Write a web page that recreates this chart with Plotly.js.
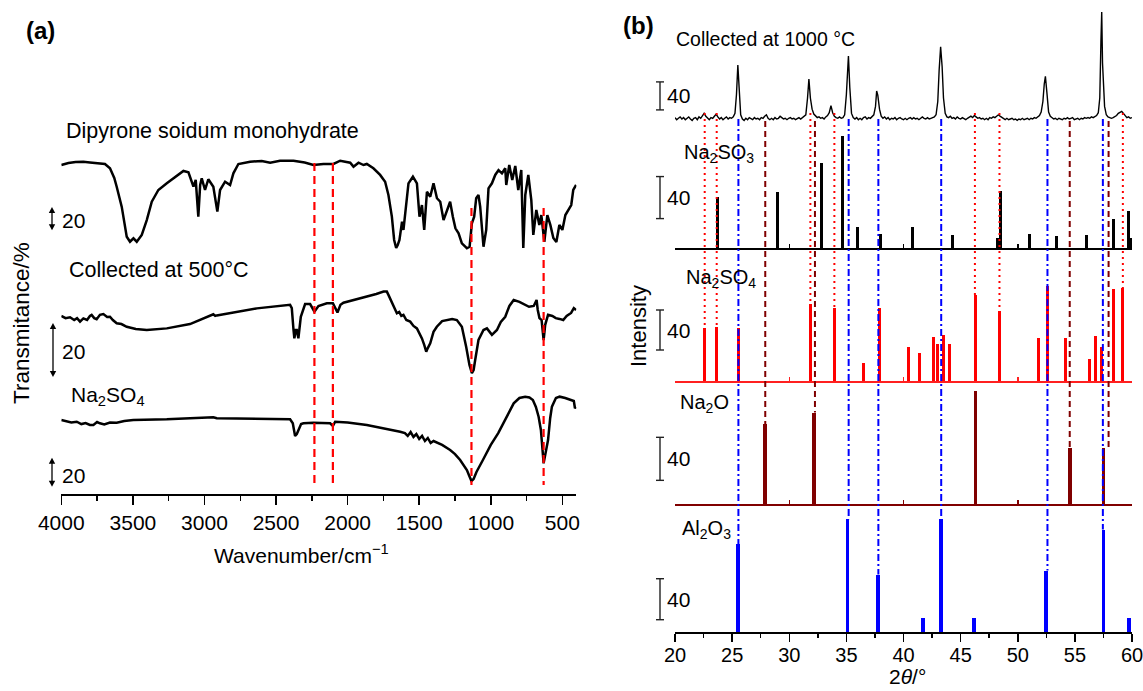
<!DOCTYPE html>
<html><head><meta charset="utf-8">
<script src="https://cdn.plot.ly/plotly-3.0.1.min.js"></script>
<style>html,body{margin:0;padding:0;background:#fff}#chart{width:1143px;height:691px}</style>
</head><body><div id="chart"></div>
<script>
// ---------------- DATA ----------------
// (a) FTIR: wavenumber (cm-1) and relative transmittance
const dipWn = [4000,3950,3900,3846,3800,3750,3695,3660,3630,3613,3578,3543,3520,3496,3473,3438,3403,3368,3322,3263,3217,3147,3112,3077,3061,3043,3030,3019,2996,2973,2938,2910,2891,2856,2821,2798,2763,2681,2600,2541,2472,2378,2300,2239,2169,2099,2052,1982,1959,1924,1889,1866,1820,1773,1738,1715,1691,1675,1661,1650,1638,1620,1610,1591,1575,1544,1516,1498,1481,1465,1446,1423,1400,1376,1353,1330,1307,1284,1265,1247,1225,1202,1167,1148,1132,1116,1102,1086,1074,1062,1051,1032,1016,992,969,946,922,899,892,871,850,829,808,787,773,759,738,717,703,682,661,647,626,605,584,563,542,521,500,479,458,438,424,404];
const dipT = [72.9,74.6,75.5,75.8,75.1,74.6,73.8,70.1,61.8,54.3,37.2,11.4,7.1,10.0,7.1,12.9,25.7,41.4,51.5,57.2,61.5,67.8,66.7,54.3,60.1,28.6,55.8,61.5,51.5,60.7,54.3,32.9,51.5,58.6,55.8,65.8,73.8,75.8,76.4,74.9,76.6,76.6,75.1,72.9,73.8,73.8,76.6,74.9,71.5,74.9,72.9,73.8,70.1,64.4,58.6,47.2,28.6,8.6,1.7,4.3,8.6,24.3,17.2,37.2,57.2,62.9,57.2,28.6,38.6,17.2,50.0,45.7,57.2,44.4,41.4,25.7,34.3,41.4,28.6,18.6,14.3,5.7,1.5,2.8,22.9,28.6,44.4,47.2,37.2,14.3,2.8,17.2,52.9,57.2,64.4,68.6,65.8,70.1,55.8,72.9,60.1,72.1,51.5,68.6,1.7,47.2,64.4,42.9,12.9,34.3,21.5,30.0,6.9,30.0,21.5,10.3,6.9,21.5,17.2,30.0,34.3,38.6,51.5,55.8];

const midWn = [4000,3970,3939,3910,3890,3869,3846,3820,3800,3788,3770,3753,3730,3706,3680,3660,3640,3613,3580,3543,3480,3403,3263,3101,2938,2925,2914,2798,2634,2402,2390,2378,2372,2362,2355,2344,2335,2327,2297,2262,2232,2204,2145,2103,2071,2050,2029,1866,1800,1749,1726,1715,1703,1690,1680,1665,1656,1640,1625,1610,1590,1563,1540,1516,1500,1481,1465,1451,1440,1423,1400,1377,1340,1307,1270,1237,1202,1172,1149,1132,1120,1109,1086,1051,1027,992,957,930,899,870,840,800,760,733,700,680,672,660,645,631,620,600,570,546,520,494,470,439,420,404];
const midT = [31.1,30.3,30.6,29.6,30.3,29.0,30.2,29.6,31.1,31.5,30.3,29.9,31.5,31.8,30.7,30.8,29.6,28.4,28.1,27.1,26.3,25.9,26.5,28.1,31.7,31.1,31.3,32.4,33.9,35.2,34.0,25.9,22.8,25.9,25.9,22.8,27.8,30.8,35.5,35.5,32.7,34.8,35.8,35.8,32.4,35.2,36.0,38.2,39.2,40.1,40.1,38.9,37.6,36.3,35.2,33.3,32.1,32.6,31.1,31.5,29.6,29.0,27.4,26.5,24.8,22.8,20.4,17.9,19.2,21.0,25.2,27.1,29.2,29.6,30.0,29.6,27.1,19.7,13.0,9.9,11.1,14.8,22.2,25.9,26.5,24.1,25.9,28.9,30.8,34.8,37.0,36.3,35.2,34.5,34.8,37.0,33.3,30.3,29.6,22.2,27.8,31.5,31.1,30.3,30.0,29.6,31.1,32.2,34.0,33.3];

const botWn = [4000,3960,3930,3892,3860,3830,3800,3776,3750,3730,3700,3660,3613,3560,3497,3263,3000,2938,2914,2700,2402,2383,2367,2355,2344,2325,2309,2239,2122,2103,2087,2000,1866,1750,1633,1600,1580,1560,1540,1520,1500,1480,1460,1440,1420,1400,1340,1284,1250,1214,1190,1167,1150,1135,1120,1100,1055,1000,948,900,840,800,760,730,706,685,666,650,640,631,620,600,585,573,545,519,480,439,420,412,404];
const botT = [69.0,68.3,67.3,67.8,66.2,66.9,65.6,65.6,67.6,66.7,65.9,67.3,67.1,68.3,69.0,69.5,70.4,70.9,70.2,70.0,69.5,66.7,58.0,59.3,62.1,66.2,66.7,67.1,66.7,64.9,67.8,67.3,65.6,63.5,60.9,60.0,58.0,60.7,57.3,59.3,55.9,58.0,54.5,56.6,53.1,54.5,51.8,48.3,45.5,41.4,37.9,34.5,30.4,26.9,28.3,33.1,41.4,51.8,60.0,69.0,80.5,84.2,85.1,84.5,82.8,78.0,71.3,62.1,48.3,39.1,44.9,55.2,70.4,78.2,84.2,85.1,84.2,82.8,82.1,77.1,78.0];

const irGuideWn = [2232, 2103, 1135, 631];

// (b) XRD pattern collected at 1000 °C: [2theta, intensity]
const xrd1000 = [[20.0,2],[20.15,-1],[20.3,1],[20.45,3],[20.6,0],[20.75,2],[20.9,-1],[21.05,1],[21.2,3],[21.35,0],[21.5,-2],[21.65,1],[21.8,2],[21.95,-1],[22.1,3],[22.25,1],[22.4,5],[22.55,8],[22.7,4],[22.85,1],[23.0,-1],[23.15,2],[23.3,1],[23.45,4],[23.6,7],[23.75,3],[23.9,0],[24.05,2],[24.2,-1],[24.35,1],[24.5,3],[24.65,0],[24.8,2],[24.95,1],[25.1,3],[25.25,8],[25.38,35],[25.5,77],[25.62,40],[25.75,6],[25.9,0],[26.05,-2],[26.2,1],[26.35,-1],[26.5,2],[26.65,0],[26.8,-1],[26.95,2],[27.1,0],[27.25,1],[27.4,-1],[27.55,2],[27.7,1],[27.85,4],[28.0,6],[28.15,1],[28.3,-1],[28.45,1],[28.6,-1],[28.75,2],[28.9,0],[29.05,1],[29.2,4],[29.35,2],[29.5,0],[29.65,1],[29.8,-1],[29.95,1],[30.1,2],[30.25,0],[30.4,1],[30.55,-1],[30.7,1],[30.85,2],[31.0,0],[31.15,2],[31.3,3],[31.45,6],[31.6,30],[31.72,57],[31.85,30],[32.0,14],[32.15,7],[32.3,4],[32.45,2],[32.6,3],[32.75,1],[32.9,2],[33.05,0],[33.2,3],[33.35,5],[33.5,9],[33.65,19],[33.8,9],[33.95,4],[34.1,2],[34.25,1],[34.4,3],[34.55,1],[34.7,2],[34.85,6],[35.0,35],[35.1,75],[35.18,90],[35.3,45],[35.45,8],[35.6,2],[35.75,0],[35.9,2],[36.05,-1],[36.2,1],[36.35,-1],[36.5,2],[36.65,3],[36.8,0],[36.95,2],[37.1,1],[37.25,3],[37.4,6],[37.55,18],[37.65,40],[37.75,34],[37.9,14],[38.05,4],[38.2,1],[38.35,3],[38.5,0],[38.65,2],[38.8,-1],[38.95,1],[39.1,0],[39.25,2],[39.4,-1],[39.55,1],[39.7,2],[39.85,0],[40.0,-1],[40.15,1],[40.3,-1],[40.45,1],[40.6,2],[40.75,0],[40.9,2],[41.05,0],[41.2,1],[41.35,-1],[41.5,1],[41.65,3],[41.8,1],[41.95,0],[42.1,2],[42.25,0],[42.4,1],[42.55,2],[42.7,3],[42.85,6],[43.0,25],[43.12,70],[43.25,103],[43.38,75],[43.5,30],[43.65,8],[43.8,3],[43.95,2],[44.1,4],[44.25,1],[44.4,2],[44.55,0],[44.7,3],[44.85,1],[45.0,0],[45.15,2],[45.3,1],[45.45,-1],[45.6,1],[45.75,3],[45.9,4],[46.05,2],[46.2,5],[46.35,3],[46.5,1],[46.65,2],[46.8,0],[46.95,1],[47.1,-1],[47.25,1],[47.4,-1],[47.55,2],[47.7,1],[47.85,3],[48.0,2],[48.15,4],[48.3,6],[48.45,4],[48.6,2],[48.75,1],[48.9,-1],[49.05,1],[49.2,-1],[49.35,0],[49.5,1],[49.65,-1],[49.8,0],[49.95,-2],[50.1,0],[50.25,-1],[50.4,1],[50.55,-1],[50.7,0],[50.85,1],[51.0,-1],[51.15,1],[51.3,0],[51.45,2],[51.6,1],[51.75,3],[51.9,5],[52.05,10],[52.2,25],[52.32,50],[52.42,61],[52.55,38],[52.7,10],[52.85,4],[53.0,2],[53.15,0],[53.3,1],[53.45,-1],[53.6,1],[53.75,0],[53.9,-1],[54.05,1],[54.2,0],[54.35,2],[54.5,0],[54.65,1],[54.8,2],[54.95,-1],[55.1,0],[55.25,1],[55.4,-1],[55.55,1],[55.7,0],[55.85,2],[56.0,1],[56.15,2],[56.3,1],[56.45,3],[56.6,2],[56.75,4],[56.9,5],[57.05,9],[57.18,30],[57.28,110],[57.35,153],[57.42,80],[57.5,55],[57.6,18],[57.75,6],[57.9,3],[58.05,2],[58.2,1],[58.35,2],[58.5,3],[58.65,5],[58.8,8],[58.95,10],[59.1,11],[59.25,8],[59.4,5],[59.55,2],[59.7,3],[59.85,1],[60.0,2]];

const so3X = [23.7,29.0,32.8,34.7,36.0,38.0,40.8,44.3,48.2,48.45,51.0,53.4,56.0,58.4,59.7,59.95];
const so3Y = [49,53,81,107,20,13,20,12,10,54,13,11,12,28,35,10];

const so4X = [22.6,23.65,25.6,31.9,34.0,36.5,37.9,40.4,41.4,42.6,43.0,43.5,44.0,46.3,48.4,51.8,52.6,54.2,56.3,56.8,57.3,58.4,59.2];
const so4Y = [53,54,53,77,73,18,73,34,28,44,37,46,37,86,70,43,95,43,22,45,34,92,93];

const naoX = [27.9,32.2,46.3,54.6,57.5];
const naoY = [74,85,105,52,52];

const aloX = [25.5,35.1,37.8,41.7,43.3,46.2,52.5,57.5,59.7];
const aloY = [86,110,56,14,110,14,60,100,14];

const guideRedX  = [22.6,23.65,31.85,33.95,46.25,48.4,59.2];   // -> Na2SO4
const guideDarkX = [27.9,32.25,54.55,57.95];                   // -> Na2O
const guideBlueX = [25.55,35.2,37.8,43.3,52.6,57.45];          // -> Al2O3

const irTickVals = [4000,3500,3000,2500,2000,1500,1000,500];
const xrdTickVals = [20,25,30,35,40,45,50,55,60];

// ---------------- LAYOUT HELPERS ----------------
const W = 1143, H = 691;
const FONT = 'Liberation Sans, Arial, Helvetica, sans-serif';
const PX = p => p / W;
const PY = p => 1 - p / H;
function mkAxis(top, bottom, ref, upp){
  return {dom:[PY(bottom), PY(top)], range:[(ref-bottom)*upp, (ref-top)*upp]};
}
const AX = {
  y:  mkAxis(100, 494, 250, 0.858),
  y2: mkAxis(100, 494, 400, 0.370),
  y3: mkAxis(100, 494, 520, 0.690),
  y4: mkAxis(5, 130, 119, 1.4286),
  y5: mkAxis(130, 248, 248, 0.952),
  y6: mkAxis(258, 381, 381, 1.0),
  y7: mkAxis(385, 504, 504, 0.930),
  y8: mkAxis(510, 632, 632, 0.976)
};
function yPaper(k, v){ const a = AX[k]; return a.dom[0] + (v - a.range[0])/(a.range[1]-a.range[0])*(a.dom[1]-a.dom[0]); }
const xbDom = [PX(675), PX(1132)];
function xbPaper(v){ return xbDom[0] + (v-20)/40*(xbDom[1]-xbDom[0]); }
const xaDom = [PX(61.3), PX(576.4)];
const xaRange = [4000, 402];
function xaPaper(v){ return xaDom[0] + (v-xaRange[0])/(xaRange[1]-xaRange[0])*(xaDom[1]-xaDom[0]); }

function nearestH(xs, ys, x){ let bi=0; xs.forEach((v,i)=>{ if(Math.abs(v-x)<Math.abs(xs[bi]-x)) bi=i; }); return ys[bi]; }

// ---------------- TRACES ----------------
const irLine = {color:'#000', width:2.5};
const traces = [
  {type:'scatter', mode:'lines', x:dipWn, y:dipT, xaxis:'x', yaxis:'y', line:irLine},
  {type:'scatter', mode:'lines', x:midWn, y:midT, xaxis:'x', yaxis:'y2', line:irLine},
  {type:'scatter', mode:'lines', x:botWn, y:botT, xaxis:'x', yaxis:'y3', line:irLine},
  {type:'scatter', mode:'lines', x:xrd1000.map(p=>p[0]), y:xrd1000.map(p=>p[1]), xaxis:'x2', yaxis:'y4', line:{color:'#000', width:1.4}},
  {type:'bar', x:so3X, y:so3Y, xaxis:'x5', yaxis:'y5', width:0.26, marker:{color:'#000', line:{width:0}}},
  {type:'bar', x:so4X, y:so4Y, xaxis:'x4', yaxis:'y6', width:0.26, marker:{color:'#ff0000', line:{width:0}}},
  {type:'bar', x:naoX, y:naoY, xaxis:'x3', yaxis:'y7', width:0.34, marker:{color:'#800000', line:{width:0}}},
  {type:'bar', x:aloX, y:aloY, xaxis:'x2', yaxis:'y8', width:0.34, marker:{color:'#0000ff', line:{width:0}}}
];

// ---------------- SHAPES ----------------
const shapes = [];
irGuideWn.forEach((w,i)=>{
  const top = i < 2 ? 163 : 208;
  shapes.push({type:'line', xref:'paper', yref:'paper', x0:xaPaper(w), x1:xaPaper(w), y0:PY(top), y1:PY(485),
    line:{color:'#ff0000', width:2.2, dash:'8px,5px'}, layer:'above'});
});
guideRedX.forEach(x=>{
  shapes.push({type:'line', xref:'paper', yref:'paper', x0:xbPaper(x), x1:xbPaper(x), y0:PY(113), y1:yPaper('y6', nearestH(so4X, so4Y, x)),
    line:{color:'#ff0000', width:2, dash:'2px,4px'}, layer:'above'});
});
guideDarkX.forEach(x=>{
  shapes.push({type:'line', xref:'paper', yref:'paper', x0:xbPaper(x), x1:xbPaper(x), y0:PY(121), y1:yPaper('y7', nearestH(naoX, naoY, x)),
    line:{color:'#800000', width:2, dash:'6px,4px'}, layer:'above'});
});
guideBlueX.forEach(x=>{
  shapes.push({type:'line', xref:'paper', yref:'paper', x0:xbPaper(x), x1:xbPaper(x), y0:PY(119), y1:yPaper('y8', nearestH(aloX, aloY, x)),
    line:{color:'#0000ff', width:2, dash:'7px,3px,2px,3px'}, layer:'above'});
});
function dArrow(xpx, k, v0, v1){
  const x = PX(xpx), yb = yPaper(k, v0), yt = yPaper(k, v1);
  const hh = 6/H, hw = 3.2/W;
  shapes.push({type:'line', xref:'paper', yref:'paper', x0:x, x1:x, y0:yb+hh*0.5, y1:yt-hh*0.5, line:{color:'#000', width:1.3}});
  shapes.push({type:'path', xref:'paper', yref:'paper', path:`M ${x-hw},${yt-hh} L ${x+hw},${yt-hh} L ${x},${yt} Z`, fillcolor:'#000', line:{width:0}});
  shapes.push({type:'path', xref:'paper', yref:'paper', path:`M ${x-hw},${yb+hh} L ${x+hw},${yb+hh} L ${x},${yb} Z`, fillcolor:'#000', line:{width:0}});
}
dArrow(52, 'y', 17, 37);
dArrow(53, 'y2', 8.5, 28.5);
dArrow(52, 'y3', 23, 43);
const sbars = [['y4',13],['y5',28],['y6',31],['y7',22],['y8',12]];
sbars.forEach(([k,v0])=>{
  const x = PX(660), c = 4/W;
  shapes.push({type:'line', xref:'paper', yref:k, x0:x, x1:x, y0:v0, y1:v0+40, line:{color:'#222', width:1.4}});
  shapes.push({type:'line', xref:'paper', yref:k, x0:x-c, x1:x+c, y0:v0, y1:v0, line:{color:'#222', width:1.4}});
  shapes.push({type:'line', xref:'paper', yref:k, x0:x-c, x1:x+c, y0:v0+40, y1:v0+40, line:{color:'#222', width:1.4}});
});

// ---------------- ANNOTATIONS ----------------
function txt(text, xpx, ypx, size, opts){
  return Object.assign({text, xref:'paper', yref:'paper', x:PX(xpx), y:PY(ypx), xanchor:'left', yanchor:'middle',
    showarrow:false, font:{family:FONT, size, color:'#000'}}, opts||{});
}
const annotations = [
  txt('<b>(a)</b>', 24, 30, 24),
  txt('<b>(b)</b>', 621, 25, 24),
  txt('Dipyrone soidum monohydrate', 64, 131, 21.5),
  txt('Collected at 500°C', 67, 270, 21.5),
  txt('Na<sub>2</sub>SO<sub>4</sub>', 69, 396, 21),
  txt('20', 60, 220, 21),
  txt('20', 60, 351, 21),
  txt('20', 60, 475, 21),
  txt('Transmitance/%', 21, 323, 22.5, {xanchor:'center', textangle:-90}),
  txt('Wavenumber/cm<sup>\u22121</sup>', 301, 554, 21, {xanchor:'center'}),
  txt('Collected at 1000 °C', 674, 39, 19.5),
  txt('Na<sub>2</sub>SO<sub>3</sub>', 682, 154, 20),
  txt('Na<sub>2</sub>SO<sub>4</sub>', 684, 278, 20),
  txt('Na<sub>2</sub>O', 678, 403, 20),
  txt('Al<sub>2</sub>O<sub>3</sub>', 680, 529, 20),
  txt('Intensity', 638, 326, 22, {xanchor:'center', textangle:-90}),
  txt('2<i>θ</i>/°', 907, 690, 21, {xanchor:'center', yanchor:'bottom'})
];
sbars.forEach(([k,v0])=>{
  annotations.push({text:'40', xref:'paper', yref:k, x:PX(665), y:v0+20, xanchor:'left', yanchor:'middle', showarrow:false,
    font:{family:FONT, size:21, color:'#000'}});
});

// ---------------- AXES ----------------
function hiddenY(k, anchor, extra){
  return Object.assign({domain:AX[k].dom, range:AX[k].range, anchor, visible:false, showgrid:false, zeroline:false, fixedrange:true}, extra||{});
}
function baseX(anchor, color, extra){
  return Object.assign({domain:xbDom, range:[20,60], anchor, showgrid:false, zeroline:false, showline:true, linecolor:color, linewidth:2,
    ticks:'inside', ticklen:4, tickwidth:1.5, tickcolor:color, tickmode:'array', tickvals:[30,40,50], showticklabels:false, matches:'x2'}, extra||{});
}
const layout = {
  width:W, height:H, margin:{l:0,r:0,t:0,b:0}, paper_bgcolor:'#fff', plot_bgcolor:'rgba(0,0,0,0)',
  showlegend:false, font:{family:FONT, color:'#000'}, bargap:0,
  xaxis:{domain:xaDom, range:xaRange, anchor:'y', showgrid:false, zeroline:false, showline:true, linecolor:'#000', linewidth:2,
    ticks:'outside', ticklen:9, tickwidth:1.5, tickcolor:'#000', tickmode:'array', tickvals:irTickVals,
    minor:{dtick:250, tick0:0, ticks:'outside', ticklen:5, tickwidth:1.5, tickcolor:'#000'},
    tickfont:{family:FONT, size:21, color:'#000'}},
  yaxis: hiddenY('y', 'x'),
  yaxis2: hiddenY('y2', 'x', {overlaying:'y'}),
  yaxis3: hiddenY('y3', 'x', {overlaying:'y'}),
  xaxis2:{domain:xbDom, range:[20,60], anchor:'y8', showgrid:false, zeroline:false, showline:true, linecolor:'#000', linewidth:2,
    ticks:'outside', ticklen:8, tickwidth:1.5, tickcolor:'#000', tickmode:'array', tickvals:xrdTickVals,
    minor:{dtick:2.5, tick0:20, ticks:'outside', ticklen:4, tickwidth:1.5, tickcolor:'#000'},
    ticklabeloverflow:'allow', ticklabelstandoff:-4,
    tickfont:{family:FONT, size:20, color:'#000'}},
  xaxis3: baseX('y7', '#800000'),
  xaxis4: baseX('y6', '#ff2020'),
  xaxis5: baseX('y5', '#000'),
  yaxis4: hiddenY('y4', 'x2'),
  yaxis5: hiddenY('y5', 'x5'),
  yaxis6: hiddenY('y6', 'x4'),
  yaxis7: hiddenY('y7', 'x3'),
  yaxis8: hiddenY('y8', 'x2'),
  shapes, annotations
};
Plotly.newPlot('chart', traces, layout, {staticPlot:true, displayModeBar:false});
</script>
</body></html>
